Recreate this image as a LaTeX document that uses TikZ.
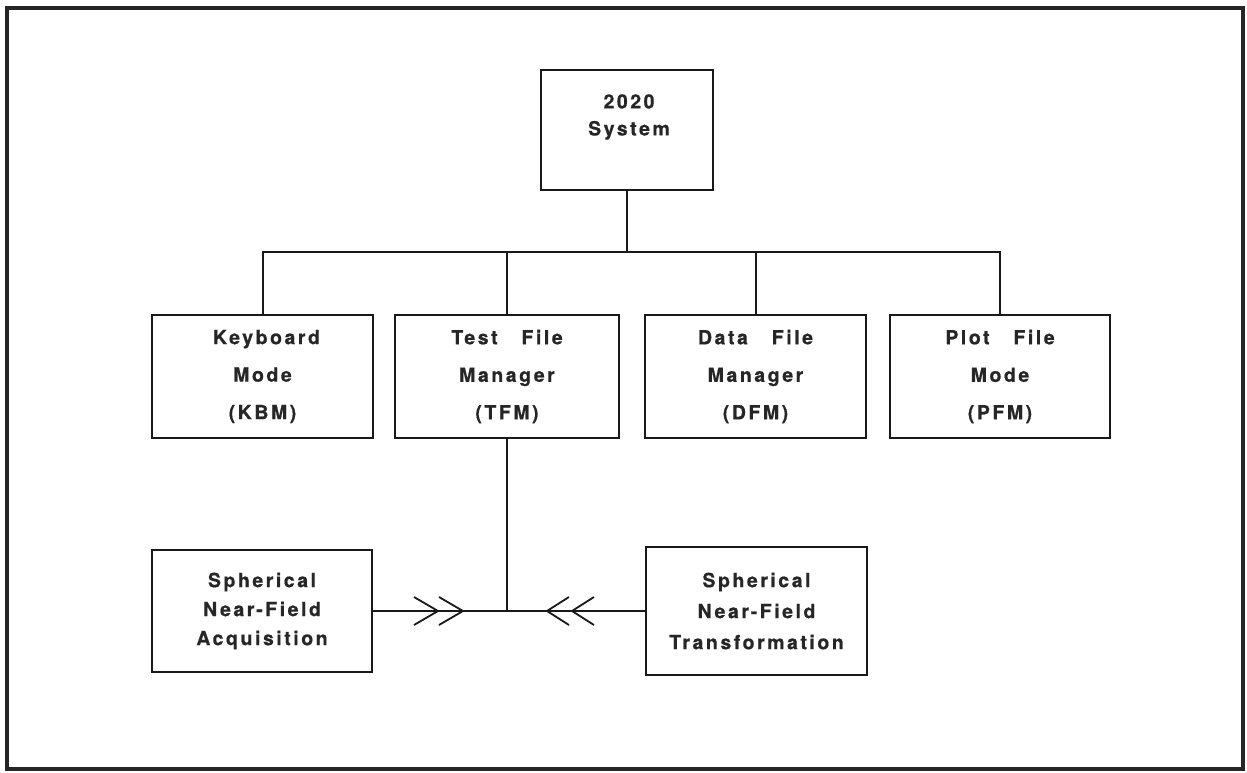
\documentclass[tikz,border=0pt]{standalone}
\usepackage{fontspec}
\usetikzlibrary{calc}
\newfontfamily\lblfont[LetterSpace=13,WordSpace=3,FakeBold=0.6]{TeX Gyre Heros Bold}
\begin{document}
\begin{tikzpicture}[x=1pt,y=-1pt,
  line/.style={draw=black!90,line width=2pt},
  box/.style={line,rectangle,inner sep=0pt,align=center,text=black!85,
    font=\lblfont\fontsize{19.5}{37.5}\selectfont},
  chev/.style={line,line width=1.8pt}]
\useasboundingbox (0,0) rectangle (1247,772);
\draw[draw=black!85,line width=3.4pt] (7,8) rectangle (1243,769);
% boxes
\node[box,minimum width=172pt,minimum height=120pt] (sys) at (627,130) {};
\node[text=black!85,align=center,font=\lblfont\fontsize{19.5}{27}\selectfont] (systxt) at (629,117) {2020\\System};
\node[box,minimum width=221pt,minimum height=123pt] (kbm) at (262.5,376.5) {\hspace*{8pt}Keyboard\\Mode\\(KBM)};
\node[box,minimum width=224pt,minimum height=123pt] (tfm) at (507,376.5) {Test File\\Manager\\(TFM)};
\node[box,minimum width=221pt,minimum height=123pt] (dfm) at (755.5,376.5) {Data File\\Manager\\(DFM)};
\node[box,minimum width=220pt,minimum height=123pt] (pfm) at (1000,376.5) {Plot File\\Mode\\(PFM)};
\node[box,minimum width=220pt,minimum height=122pt,font=\lblfont\fontsize{19.5}{29}\selectfont] (acq) at (262,611) {Spherical\\Near-Field\\Acquisition};
\node[box,minimum width=221pt,minimum height=128pt,font=\lblfont\fontsize{19.5}{31}\selectfont] (trn) at (756.5,611) {Spherical\\Near-Field\\Transformation};
% connectors
\coordinate (bus) at (627,252);
\draw[line] (sys.south) -- (bus);
\draw[line] (kbm.north) |- (bus) -| (pfm.north);
\draw[line] (tfm.north) -- (tfm.north |- bus);
\draw[line] (dfm.north) -- (dfm.north |- bus);
\coordinate (j) at (tfm.south |- acq.east);
\draw[line] (tfm.south) -- (j);
\draw[line] (acq.east) -- (trn.west);
% chevrons
\draw[chev] ($(acq.east)+(41,-14)$) -- ++(24,14) -- ++(-24,14);
\draw[chev] ($(acq.east)+(66,-14)$) -- ++(24,14) -- ++(-24,14);
\draw[chev] ($(trn.west)+(-76,-14)$) -- ++(-22,14) -- ++(22,14);
\draw[chev] ($(trn.west)+(-51,-14)$) -- ++(-22,14) -- ++(22,14);
\end{tikzpicture}
\end{document}
